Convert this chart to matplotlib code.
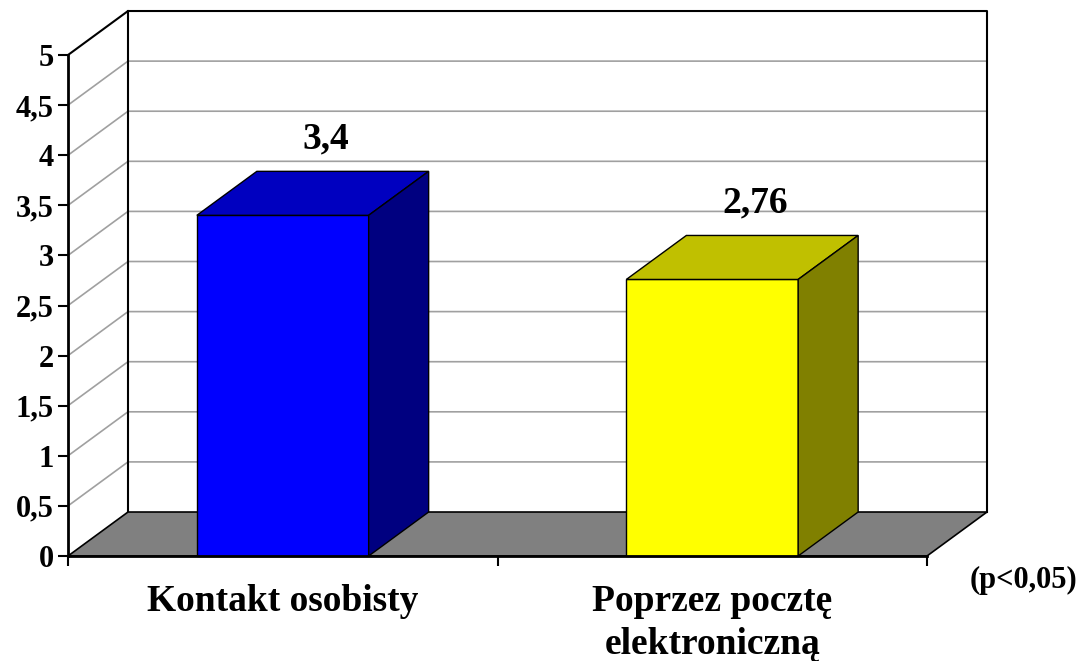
import numpy as np
import matplotlib.pyplot as plt
from matplotlib.patches import Polygon, Rectangle

# Dane
categories = ['Kontakt osobisty', 'Poprzez pocztę\nelektroniczną']
values = [3.4, 2.76]
value_labels = ['3,4', '2,76']
front_colors = ['#0000FF', '#FFFF00']
top_colors = ['#0000C0', '#C0C000']
side_colors = ['#000080', '#808000']
y_ticks = np.arange(0, 5.01, 0.5)
note = '(p<0,05)'

plt.rcParams['font.family'] = ['Liberation Serif', 'DejaVu Serif']
plt.rcParams['font.weight'] = 'bold'

fig = plt.figure(figsize=(10.85, 6.61), dpi=100)
ax = fig.add_axes([68 / 1085, 105 / 661, 859 / 1085, 501 / 661])
ax.set_xlim(0, 2)
ax.set_ylim(0, 5)

# przesunięcie głębi (efekt 3D)
dx, dy = 0.1397, 0.439
bw = 0.4
grid_c = '#A0A0A0'

# ściana tylna
ax.add_patch(Rectangle((dx, dy), 2, 5, facecolor='white', edgecolor='none', clip_on=False, zorder=0))
for y in y_ticks[1:-1]:
    ax.plot([0, dx, 2 + dx], [y, y + dy, y + dy], color=grid_c, lw=1.2, clip_on=False, zorder=1)
ax.plot([0, dx, 2 + dx, 2 + dx], [5, 5 + dy, 5 + dy, dy], color='black', lw=1.5, clip_on=False, zorder=2)
ax.plot([dx, dx], [dy, 5 + dy], color='black', lw=1.5, clip_on=False, zorder=2)

# podłoga
ax.add_patch(Polygon([(0, 0), (dx, dy), (2 + dx, dy), (2, 0)], closed=True, facecolor='#808080',
                     edgecolor='black', lw=1.2, clip_on=False, zorder=3))

# słupki
for i, v in enumerate(values):
    x0 = i + 0.5 - bw / 2
    x1 = x0 + bw
    ax.add_patch(Rectangle((x0, 0), bw, v, facecolor=front_colors[i], edgecolor='black', lw=1,
                           clip_on=False, zorder=5))
    ax.add_patch(Polygon([(x0, v), (x1, v), (x1 + dx, v + dy), (x0 + dx, v + dy)], closed=True,
                         facecolor=top_colors[i], edgecolor='black', lw=1, clip_on=False, zorder=5))
    ax.add_patch(Polygon([(x1, 0), (x1 + dx, dy), (x1 + dx, v + dy), (x1, v)], closed=True,
                         facecolor=side_colors[i], edgecolor='black', lw=1, clip_on=False, zorder=5))
    ax.text(i + 0.5 + 0.1, v + dy + 0.23, value_labels[i], ha='center', va='baseline',
            fontsize=27, fontweight='bold', zorder=6)
    ax.text(i + 0.5, -0.28, categories[i], ha='center', va='top', fontsize=27,
            fontweight='bold', linespacing=1.28)

# osie
for s in ['top', 'right']:
    ax.spines[s].set_visible(False)
ax.spines['left'].set_linewidth(2)
ax.spines['bottom'].set_linewidth(2)
ax.spines['left'].set_zorder(7)
ax.spines['bottom'].set_zorder(7)
ax.set_facecolor('none')
ax.set_yticks(y_ticks)
ax.set_yticklabels([f'{t:g}'.replace('.', ',') for t in y_ticks], fontsize=22, fontweight='bold')
ax.set_xticks([0, 1, 2])
ax.set_xticklabels([])
ax.tick_params(axis='both', direction='out', length=7, width=1.5, pad=3)

ax.text(2.1, -0.24, note, ha='left', va='center', fontsize=22, fontweight='bold')

fig.savefig('out.png', dpi=100)
